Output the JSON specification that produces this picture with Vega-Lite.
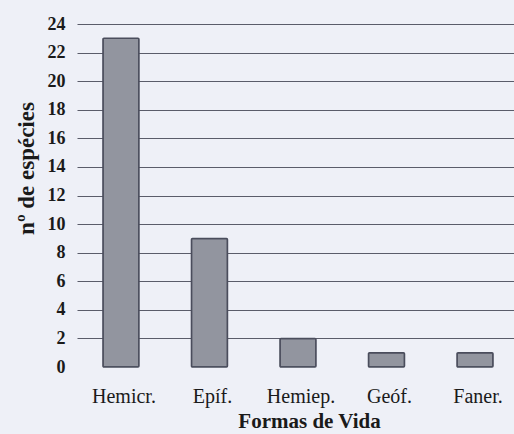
{
  "$schema": "https://vega.github.io/schema/vega-lite/v6.json",
  "autosize": {"type": "none"},
  "padding": {"left": 77, "top": 24, "right": 0, "bottom": 67},
  "width": 437,
  "height": 343,
  "background": "#eef0f7",
  "config": {
    "view": {"stroke": null},
    "font": "Liberation Serif, Times New Roman, serif"
  },
  "data": {
    "values": [
      {"forma": "Hemicr.", "n": 23},
      {"forma": "Epíf.", "n": 9},
      {"forma": "Hemiep.", "n": 2},
      {"forma": "Geóf.", "n": 1},
      {"forma": "Faner.", "n": 1}
    ]
  },
  "mark": {"type": "bar", "fill": "#92959f", "stroke": "#4a4d5c", "strokeWidth": 1.5, "cornerRadius": 1},
  "encoding": {
    "x": {
      "field": "forma",
      "type": "nominal",
      "sort": null,
      "scale": {"paddingInner": 0.593, "paddingOuter": 0.265, "align": 0.553},
      "axis": {
        "title": "Formas de Vida",
        "titleFont": "Liberation Serif, Times New Roman, serif",
        "titleFontSize": 21,
        "titleFontWeight": "bold",
        "titleColor": "#1a1a1a",
        "titleBaseline": "alphabetic",
        "titleX": 232,
        "titleY": 60,
        "labelAngle": 0,
        "labelOffset": 3,
        "labelFont": "Liberation Serif, Times New Roman, serif",
        "labelFontSize": 20,
        "labelColor": "#1a1a1a",
        "labelBaseline": "alphabetic",
        "labelPadding": 35,
        "domain": false,
        "ticks": false,
        "grid": false
      }
    },
    "y": {
      "field": "n",
      "type": "quantitative",
      "scale": {"domain": [0, 24], "nice": false},
      "axis": {
        "title": "nº de espécies",
        "titleFont": "Liberation Serif, Times New Roman, serif",
        "titleFontSize": 23,
        "titleFontWeight": "bold",
        "titleColor": "#1a1a1a",
        "titleBaseline": "alphabetic",
        "titleX": -44,
        "titleY": 144,
        "values": [0, 2, 4, 6, 8, 10, 12, 14, 16, 18, 20, 22, 24],
        "labelFont": "Liberation Serif, Times New Roman, serif",
        "labelFontSize": 18,
        "labelFontWeight": "bold",
        "labelColor": "#1a1a1a",
        "labelPadding": 12,
        "domain": false,
        "ticks": false,
        "grid": true,
        "gridColor": "#5a5c6a",
        "gridWidth": 1.2,
        "gridOpacity": {"condition": {"test": "datum.value === 0", "value": 0}, "value": 1}
      }
    }
  }
}
